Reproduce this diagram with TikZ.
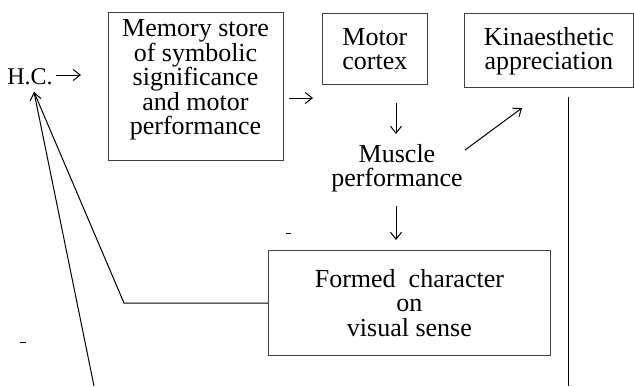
\documentclass[tikz,border=0pt]{standalone}
\usepackage{fontspec}
\setmainfont{Liberation Serif}
\usetikzlibrary{arrows.meta}
\begin{document}
\begin{tikzpicture}[x=1pt,y=-1pt,
  boxnode/.style={draw=black!75,line width=0.8pt,inner sep=0pt,anchor=north west},
  txt/.style={align=center,font=\fontsize{26}{24.5}\selectfont,inner sep=0pt},
  arr/.style={line width=1pt,-{Straight Barb[length=7pt,width=11pt]}},
  ln/.style={line width=1pt}]
\useasboundingbox (0,0) rectangle (634,386);
% boxes
\node[boxnode,minimum width=175pt,minimum height=148pt] (mem) at (108,12) {};
\node[txt] (memtxt) at (195.5,80) {Memory store\\of symbolic\\significance\\and motor\\performance};
\node[boxnode,minimum width=105pt,minimum height=71pt] (motor) at (322,13) {};
\node[txt] (motortxt) at (motor.center) {Motor\\cortex};
\node[boxnode,minimum width=169pt,minimum height=74pt] (kin) at (464,13) {};
\node[txt] (kintxt) at ([yshift=-1pt]kin.center) {Kinaesthetic\\appreciation};
\node[boxnode,minimum width=282pt,minimum height=105pt] (formed) at (268,250) {};
\node[txt] (formedtxt) at (formed.center) {Formed\ \ character\\on\\visual sense};
\node[txt] (muscle) at (397,168) {Muscle\\performance};
\node[align=center,inner sep=0pt,font=\fontsize{24}{24}\selectfont] (hc) at (30,77) {H.C.};
% coordinates
\coordinate (hcA) at (56,75);
\coordinate (hcB) at (81,75);
\coordinate (mA) at (289,98);
\coordinate (mB) at (313,98);
\coordinate (cA) at (396,103);
\coordinate (cB) at (396,134);
\coordinate (dA) at (465,150);
\coordinate (dB) at (522,108);
\coordinate (eA) at (396,206);
\coordinate (eB) at (396,240);
\coordinate (apex) at (34,92);
\coordinate (corner) at (124,303);
\coordinate (bot) at (94,386);
\coordinate (vtop) at (568,97);
\coordinate (vbot) at (568,386);
% arrows
\draw[arr] (hcA) -- (hcB);
\draw[arr] (mA) -- (mB);
\draw[arr] (cA) -- (cB);
\draw[arr] (dA) -- (dB);
\draw[arr] (eA) -- (eB);
\draw[ln] (formed.west |- corner) -- (corner) -- (apex);
\draw[ln,-{Straight Barb[length=7pt,width=11pt]}] (bot) -- (apex);
\draw[ln] (vtop) -- (vbot);
% stray marks
\draw[line width=0.8pt] (286,233) -- (291,233);
\draw[line width=0.8pt] (20,342) -- (26,342);
\end{tikzpicture}
\end{document}
